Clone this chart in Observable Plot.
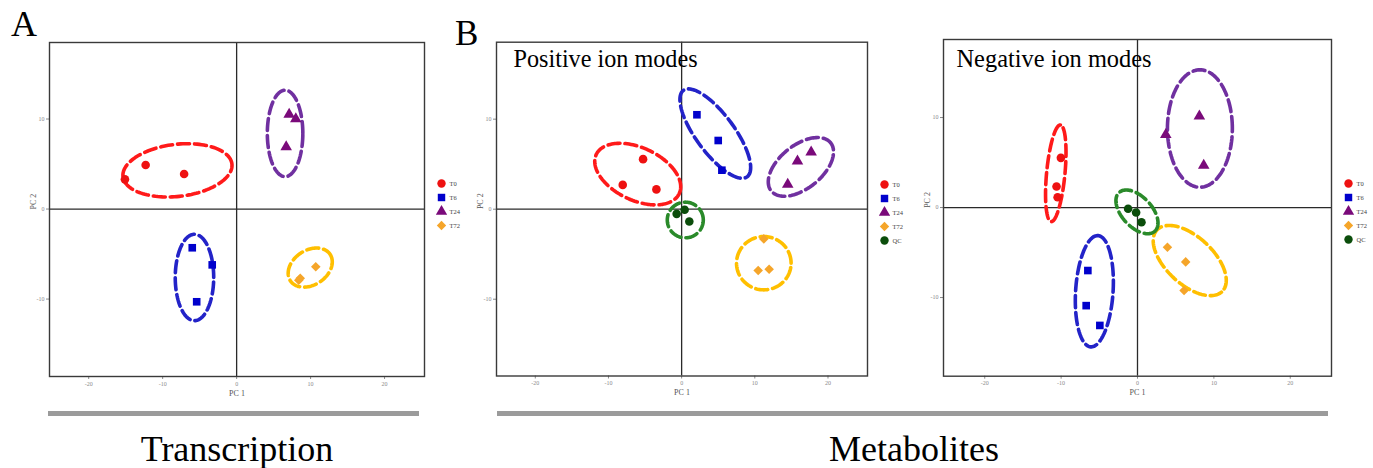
<!DOCTYPE html>
<html><head><meta charset="utf-8">
<script src="https://cdn.jsdelivr.net/npm/d3@7"></script>
<script src="https://cdn.jsdelivr.net/npm/@observablehq/plot@0.6"></script>
<style>
body{margin:0;background:#fff}
#wrap{position:relative;width:1373px;height:468px;overflow:hidden;background:#fff;font-family:"Liberation Serif","Times New Roman",serif}
.abs{position:absolute}
</style>
</head><body><div id="wrap"></div>
<script>
// ---------- data ----------
const groups = ["T0", "T6", "T24", "T72", "QC"];

// A: Transcription
const transGroup = ["T0","T0","T0","T6","T6","T6","T24","T24","T24","T72","T72","T72"];
const transPC1 = [-15.1, -12.3, -7.1, -6.0, -3.3, -5.4, 7.1, 8.0, 6.7, 10.7, 8.6, 8.4];
const transPC2 = [3.3, 4.9, 3.9, -4.3, -6.2, -10.3, 10.5, 10.0, 6.9, -6.4, -7.7, -7.9];
const transEllGroup = ["T0", "T6", "T24", "T72"];
const transEllCx = [-8.0, -5.7, 6.55, 9.95];
const transEllCy = [4.3, -7.6, 8.4, -6.5];
const transEllRa = [7.4, 2.6, 2.4, 3.1];
const transEllRb = [2.9, 4.8, 4.8, 2.0];
const transEllAngle = [5, 0, 0, 21];

// B: Metabolites, positive ion mode
const posGroup = ["T0","T0","T0","T6","T6","T6","T24","T24","T24","T72","T72","T72","QC","QC","QC"];
const posPC1 = [-5.27, -8.05, -3.45, 2.09, 5.0, 5.5, 15.83, 17.7, 14.5, 11.23, 10.46, 11.96, -0.68, 0.41, 1.05];
const posPC2 = [5.56, 2.7, 2.2, 10.49, 7.63, 4.33, 5.33, 6.33, 2.74, -3.3, -6.81, -6.67, -0.52, -0.07, -1.37];
const posEllGroup = ["T0", "T6", "T24", "T72", "QC"];
const posEllCx = [-6.0, 4.6, 16.3, 11.23, 0.5];
const posEllCy = [3.9, 8.4, 4.7, -6.0, -1.2];
const posEllRa = [6.1, 6.5, 4.9, 3.73, 2.46];
const posEllRb = [3.0, 2.4, 2.55, 2.96, 1.98];
const posEllAngle = [-18, -46, 29, 0, 0];

// C: Metabolites, negative ion mode
const negGroup = ["T0","T0","T0","T6","T6","T6","T24","T24","T24","T72","T72","T72","QC","QC","QC"];
const negPC1 = [-10.03, -10.6, -10.46, -6.5, -6.72, -4.93, 8.1, 3.7, 8.67, 3.92, 6.31, 6.1, -1.23, -0.18, 0.52];
const negPC2 = [5.52, 2.33, 1.15, -7.0, -10.9, -13.1, 10.14, 8.1, 4.67, -4.41, -6.04, -9.22, -0.14, -0.55, -1.63];
const negEllGroup = ["T0", "T6", "T24", "T72", "QC"];
const negEllCx = [-10.7, -5.65, 8.17, 6.84, -0.07];
const negEllCy = [3.8, -9.3, 8.78, -5.89, -0.48];
const negEllRa = [5.4, 6.2, 4.25, 5.5, 3.2];
const negEllRb = [1.2, 2.45, 6.52, 2.8, 1.8];
const negEllAngle = [83.5, 85.4, 0, -35, -38];

const xTicks = [-20, -10, 0, 10, 20];
const yTicks = [-10, 0, 10];

// ---------- styles ----------
const pointColor = {T0: "#ee1111", T6: "#0000cc", T24: "#7a0a7a", T72: "#f5a52a", QC: "#0b4d0b"};
const ellColor = {T0: "#ff1a1a", T6: "#2323c8", T24: "#7030a0", T72: "#ffbf00", QC: "#2a8a2a"};
const shape = {T0: "circle", T6: "square", T24: "triangle", T72: "diamond2", QC: "circle"};

function ellipseOutline(cx, cy, ra, rb, deg, group) {
  const th = deg * Math.PI / 180, n = 140;
  return d3.range(n + 1).map(i => {
    const t = 2 * Math.PI * i / n;
    return {
      group,
      x: cx + ra * Math.cos(t) * Math.cos(th) - rb * Math.sin(t) * Math.sin(th),
      y: cy + ra * Math.cos(t) * Math.sin(th) + rb * Math.sin(t) * Math.cos(th)
    };
  });
}

const panels = [
  {left: 0, width: 425, marginTop: 42, marginBottom: 24, xDomain: [-25.3, 25.4], yDomain: [-18.6, 18.5],
   pc1: transPC1, pc2: transPC2, group: transGroup,
   ell: {g: transEllGroup, cx: transEllCx, cy: transEllCy, ra: transEllRa, rb: transEllRb, ang: transEllAngle},
   title: null, legend: ["T0", "T6", "T24", "T72"], legendLeft: 435.7, legendTop: 171.7},
  {left: 447, width: 421, marginTop: 41.7, marginBottom: 24.5, xDomain: [-25.3, 25.4], yDomain: [-18.53, 18.55],
   pc1: posPC1, pc2: posPC2, group: posGroup,
   ell: {g: posEllGroup, cx: posEllCx, cy: posEllCy, ra: posEllRa, rb: posEllRb, ang: posEllAngle},
   title: "Positive ion modes", titleDx: 17, titleDy: 25, titleSize: 24.2,
   legend: groups, legendLeft: 879, legendTop: 171.7},
  {left: 894, width: 438, marginTop: 39, marginBottom: 24.3, xDomain: [-25.4, 25.4], yDomain: [-18.74, 18.67],
   pc1: negPC1, pc2: negPC2, group: negGroup,
   ell: {g: negEllGroup, cx: negEllCx, cy: negEllCy, ra: negEllRa, rb: negEllRb, ang: negEllAngle},
   title: "Negative ion modes", titleDx: 13, titleDy: 27.7, titleSize: 24.4,
   legend: groups, legendLeft: 1343.3, legendTop: 170.7}
];

const wrap = document.getElementById("wrap");

for (const p of panels) {
  const pts = p.pc1.map((x, i) => ({x, y: p.pc2[i], group: p.group[i]}));
  const ell = p.ell.g.flatMap((g, i) => ellipseOutline(p.ell.cx[i], p.ell.cy[i], p.ell.ra[i], p.ell.rb[i], p.ell.ang[i], g));
  const marks = [
    Plot.ruleY([0], {stroke: "#2a2a2a", strokeWidth: 1.3}),
    Plot.ruleX([0], {stroke: "#2a2a2a", strokeWidth: 1.3}),
    Plot.axisX(xTicks, {tickSize: 3, tickPadding: 2, fontSize: 6, color: "#8a8a8a", label: null, tickFormat: d => String(d)}),
    Plot.axisY(yTicks, {tickSize: 3, tickPadding: 2, fontSize: 6, color: "#8a8a8a", label: null, tickFormat: d => String(d)}),
    Plot.text(["PC 1"], {frameAnchor: "bottom", dy: 19, text: d => d, fontSize: 8, fill: "#555"}),
    Plot.text(["PC 2"], {frameAnchor: "left", dx: -16, rotate: -90, text: d => d, fontSize: 8, fill: "#555"}),
    Plot.line(ell, {x: "x", y: "y", z: "group", stroke: d => ellColor[d.group], strokeWidth: 3.6, strokeDasharray: "12,5", curve: "linear"}),
    Plot.dot(pts, {x: "x", y: "y", symbol: d => shape[d.group], fill: d => pointColor[d.group], r: 4.3, stroke: "none"}),
    Plot.frame({stroke: "#3a3a3a", strokeWidth: 1.4})
  ];
  if (p.title) {
    marks.push(Plot.text([p.title], {frameAnchor: "top-left", dx: p.titleDx, dy: p.titleDy, textAnchor: "start", lineAnchor: "bottom", fontSize: p.titleSize, fill: "#000", text: d => d}));
  }
  const chart = Plot.plot({
    width: p.width, height: 400,
    marginLeft: 49, marginRight: 1, marginTop: p.marginTop, marginBottom: p.marginBottom,
    x: {domain: p.xDomain, axis: null},
    y: {domain: p.yDomain, axis: null},
    color: {type: "identity"},
    style: {fontFamily: "Liberation Serif, Times New Roman, serif", background: "transparent", overflow: "visible"},
    marks
  });
  chart.classList.add("abs");
  chart.style.left = p.left + "px";
  chart.style.top = "0px";
  wrap.appendChild(chart);

  // legend
  const n = p.legend.length;
  const leg = Plot.plot({
    width: 45, height: 20 + (n - 1) * 14.8,
    marginLeft: 0, marginRight: 0, marginTop: 10, marginBottom: 10,
    x: {axis: null},
    y: {type: "point", domain: p.legend, padding: 0, axis: null},
    color: {type: "identity"},
    style: {fontFamily: "Liberation Serif, Times New Roman, serif", background: "transparent", overflow: "visible"},
    marks: [
      Plot.dot(p.legend, {frameAnchor: "left", dx: 5, y: d => d, symbol: d => shape[d], fill: d => pointColor[d], r: 4.2}),
      Plot.text(p.legend, {frameAnchor: "left", dx: 13, y: d => d, text: d => d, textAnchor: "start", fontSize: 6.5, fill: "#444"})
    ]
  });
  leg.classList.add("abs");
  leg.style.left = p.legendLeft + "px";
  leg.style.top = p.legendTop + "px";
  wrap.appendChild(leg);
}

// bars
function bar(left, width) {
  const d = document.createElement("div");
  d.className = "abs";
  Object.assign(d.style, {left: left + "px", top: "411px", width: width + "px", height: "5px", background: "#9b9b9b"});
  wrap.appendChild(d);
}
bar(48, 371);
bar(497, 831);

// labels overlay
const ov = d3.create("svg").attr("width", 1373).attr("height", 468)
  .attr("class", "abs").style("left", "0px").style("top", "0px")
  .style("font-family", "Liberation Serif, Times New Roman, serif");
ov.append("text").attr("x", 11).attr("y", 36).attr("font-size", 36).text("A");
ov.append("text").attr("x", 455).attr("y", 45).attr("font-size", 35).text("B");
ov.append("text").attr("x", 237).attr("y", 461).attr("font-size", 36).attr("text-anchor", "middle").text("Transcription");
ov.append("text").attr("x", 914).attr("y", 461).attr("font-size", 36).attr("text-anchor", "middle").text("Metabolites");
wrap.appendChild(ov.node());
</script>
</body></html>
